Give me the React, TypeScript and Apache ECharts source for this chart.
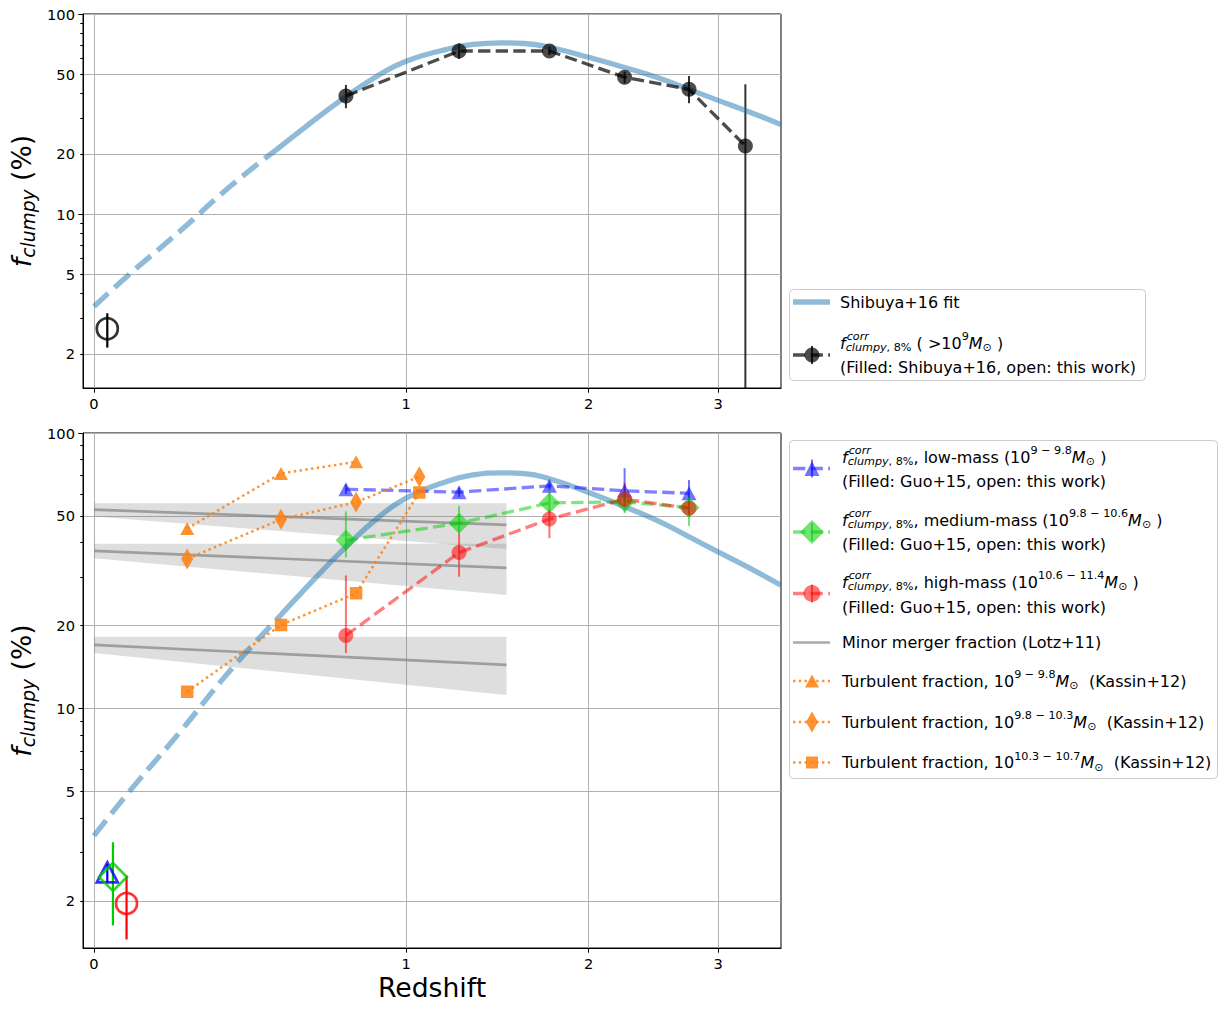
import React, { useEffect, useRef } from 'react';
import * as echarts from 'echarts';

// ---------------- data (redshift z, fraction in %) ----------------
const X_TICKS_Z = [0, 1, 2, 3];
const Y_TICKS = [2, 5, 10, 20, 50, 100];
const Y_MAJOR = [10, 100];
const Y_MINOR = [3, 4, 6, 7, 8, 9, 30, 40, 60, 70, 80, 90];
const Z_MIN = -0.0241;
const Z_MAX = 3.6;
const F_MIN = 1.35;
const F_MAX = 100;

// Shibuya+16 fit curve
const FIT_DASH_Z = [0, 0.08, 0.21, 0.35, 0.5];
const FIT_DASH_F = [3.45, 4.96, 8.2, 13.6, 21.0];
const FIT_SOLID_Z = [0.5, 0.6, 0.75, 0.88, 1.0, 1.16, 1.32, 1.47, 1.6, 1.75, 2.0, 2.25, 2.5, 2.75, 3.0, 3.3, 3.6];
const FIT_SOLID_F = [21.0, 27.3, 38.6, 49.3, 58.0, 65.5, 70.4, 71.7, 71.2, 68.2, 60.8, 54.0, 48.0, 42.0, 37.0, 32.2, 28.0];

// Shibuya+16 points (> 1e9 Msun)
const SHIBUYA_Z = [0.75, 1.25, 1.75, 2.25, 2.75, 3.25];
const SHIBUYA_F = [38.9, 65.3, 65.3, 48.3, 42.0, 21.9];
const SHIBUYA_LO = [33.8, 59.6, 62.4, 45.0, 35.8, 1.0];
const SHIBUYA_HI = [44.2, 71.3, 68.7, 51.5, 49.0, 44.5];

// this work, all masses
const TW_ALL_Z = [0.03];
const TW_ALL_F = [2.67];
const TW_ALL_LO = [2.15];
const TW_ALL_HI = [3.19];

// Guo+15
const GUO_Z = [0.75, 1.25, 1.75, 2.25, 2.75];
const GUO_LOW_F = [62.5, 61.0, 64.3, 61.7, 60.4];
const GUO_LOW_LO = [60.0, 58.5, 62.0, 56.3, 54.8];
const GUO_LOW_HI = [65.0, 63.5, 66.5, 74.5, 67.5];
const GUO_MED_F = [40.8, 47.0, 55.7, 56.3, 53.6];
const GUO_MED_LO = [35.3, 43.0, 51.2, 51.2, 46.0];
const GUO_MED_HI = [51.9, 54.3, 61.2, 62.0, 59.6];
const GUO_HIGH_F = [18.4, 36.8, 48.7, 57.5, 53.3];
const GUO_HIGH_LO = [15.9, 30.1, 41.5, 54.0, 50.5];
const GUO_HIGH_HI = [30.4, 43.0, 52.5, 66.1, 56.0];

// this work, per mass bin
const TW_LOW_Z = [0.03];
const TW_LOW_F = [2.54];
const TW_LOW_LO = [2.32];
const TW_LOW_HI = [2.72];
const TW_MED_Z = [0.043];
const TW_MED_F = [2.445];
const TW_MED_LO = [1.63];
const TW_MED_HI = [3.27];
const TW_HIGH_Z = [0.075];
const TW_HIGH_F = [1.96];
const TW_HIGH_LO = [1.45];
const TW_HIGH_HI = [2.47];

// Kassin+12 turbulent fractions
const KASSIN_Z = [0.23, 0.515, 0.79, 1.06];
const KASSIN_LOW_F = [45.0, 71.3, 78.6];
const KASSIN_MID_F = [34.9, 48.6, 56.1, 69.4];
const KASSIN_HIGH_F = [11.5, 20.1, 26.2, 60.8];

// Lotz+11 minor merger fraction
const LOTZ_Z = [0, 1.5];
const LOTZ1_F = [52.7, 46.4];
const LOTZ1_UP = [55.6, 55.6];
const LOTZ1_DN = [49.8, 37.9];
const LOTZ2_F = [37.3, 32.4];
const LOTZ2_UP = [39.6, 39.6];
const LOTZ2_DN = [35.1, 25.8];
const LOTZ3_F = [17.0, 14.4];
const LOTZ3_UP = [18.2, 18.2];
const LOTZ3_DN = [15.9, 11.2];

// ---------------- helpers ----------------
const FONT = 'DejaVu Sans';
const tx = (z: number) => Math.log10(1 + z);
const ty = (f: number) => Math.log10(f);
const P = (zs: number[], fs: number[]) => fs.map((f, i) => [tx(zs[i]), ty(f)]);
const E = (zs: number[], lo: number[], hi: number[]) => zs.map((z, i) => [tx(z), ty(lo[i]), ty(hi[i])]);

const C_FIT = 'rgba(31,119,180,0.5)';
const C_BLACK = 'rgba(0,0,0,0.7)';
const C_BLUE_M = 'rgba(0,0,255,0.55)';
const C_BLUE_L = 'rgba(0,0,255,0.5)';
const C_GREEN_M = 'rgba(0,204,0,0.55)';
const C_GREEN_L = 'rgba(0,204,0,0.5)';
const C_RED_M = 'rgba(255,0,0,0.55)';
const C_RED_L = 'rgba(255,0,0,0.5)';
const C_ORANGE = 'rgba(255,127,14,0.85)';
const C_GRAY = 'rgba(128,128,128,0.68)';
const C_BAND = 'rgba(128,128,128,0.26)';
const DASH_FIT = [19.7, 8.5];
const DASH = [12.3, 5.3];
const DOT = [2.4, 3.4];

let _ctx: any = null;
function textWidth(t: string, size: number, it?: boolean) {
  if (!_ctx) _ctx = document.createElement('canvas').getContext('2d');
  _ctx.font = `${it ? 'italic ' : ''}${size}px "${FONT}"`;
  return _ctx.measureText(t).width;
}

type Piece = { t: string; it?: boolean };
type Run = { t?: string; it?: boolean; sup?: Piece[]; sub?: Piece[] };

function mathText(runs: Run[], x0: number, yc: number, size: number, supDy = -0.4, subDy = 0.29) {
  const small = size * 0.7;
  const els: any[] = [];
  let x = x0;
  const put = (p: Piece, px: number, py: number, s: number) => {
    els.push({
      type: 'text', x: px, y: py, silent: true,
      style: { text: p.t, fontSize: s, fontFamily: FONT, fontStyle: p.it ? 'italic' : 'normal', fill: '#000', align: 'left', verticalAlign: 'middle' },
    });
    return textWidth(p.t, s, p.it);
  };
  for (const r of runs) {
    if (r.t !== undefined) x += put({ t: r.t, it: r.it }, x, yc, size);
    if (r.sup || r.sub) {
      let wa = 0, wb = 0;
      if (r.sup) { let xx = x + (r.it ? 1 : 0); for (const p of r.sup) xx += put(p, xx, yc + supDy * size, small); wa = xx - x; }
      if (r.sub) { let xx = x; for (const p of r.sub) xx += put(p, xx, yc + subDy * size, small); wb = xx - x; }
      x += Math.max(wa, wb);
    }
  }
  return { els, width: x - x0 };
}

const FCORR: Run = { t: 'f', it: true, sup: [{ t: 'corr', it: true }], sub: [{ t: 'clumpy', it: true }, { t: ', 8%' }] };
const MSUN: Run = { t: 'M', it: true, sub: [{ t: '⊙' }] };

function xAxisFor(g: number) {
  const vals = X_TICKS_Z.map(tx);
  return {
    type: 'value', gridIndex: g, min: tx(Z_MIN), max: tx(Z_MAX),
    axisLine: { show: true, onZero: false, lineStyle: { color: '#000', width: 1 } },
    axisTick: { show: true, customValues: vals, length: 4.7, lineStyle: { color: '#000', width: 1 } },
    axisLabel: {
      show: true, customValues: vals, showMinLabel: true, showMaxLabel: true,
      formatter: (v: number) => String(Math.round(Math.pow(10, v) - 1)),
      color: '#000', fontSize: 14.67, fontFamily: FONT, margin: 8,
    },
    splitLine: { show: true, lineStyle: { color: '#b0b0b0', width: 1 } },
  };
}

function yAxesFor(g: number) {
  const base = { type: 'value', gridIndex: g, min: ty(F_MIN), max: ty(F_MAX), position: 'left' };
  return [
    {
      ...base,
      axisLine: { show: true, onZero: false, lineStyle: { color: '#000', width: 1 } },
      axisTick: { show: true, customValues: Y_TICKS.map(ty), length: 2.7, lineStyle: { color: '#000', width: 1 } },
      axisLabel: {
        show: true, customValues: Y_TICKS.map(ty), showMinLabel: true, showMaxLabel: true,
        formatter: (v: number) => String(Math.round(Math.pow(10, v))),
        color: '#000', fontSize: 14.67, fontFamily: FONT, margin: 8,
      },
      splitLine: { show: true, lineStyle: { color: '#b0b0b0', width: 1 } },
    },
    {
      ...base,
      axisLine: { show: false, onZero: false },
      axisTick: { show: true, customValues: Y_MAJOR.map(ty), length: 4.7, lineStyle: { color: '#000', width: 1 } },
      axisLabel: { show: false },
      splitLine: { show: false },
    },
    {
      ...base,
      axisLine: { show: false, onZero: false },
      axisTick: { show: true, customValues: Y_MINOR.map(ty), length: 2.7, lineStyle: { color: '#000', width: 1 } },
      axisLabel: { show: false },
      splitLine: { show: false },
    },
  ];
}

function errSeries(g: number, data: number[][], color: string, width = 2) {
  return {
    type: 'custom', xAxisIndex: g, yAxisIndex: g * 3, silent: true, clip: true,
    data,
    renderItem: (params: any, api: any) => {
      const cs = params.coordSys;
      const a = api.coord([api.value(0), api.value(1)]);
      const b = api.coord([api.value(0), api.value(2)]);
      const top = cs.y, bot = cs.y + cs.height;
      const y1 = Math.max(top, Math.min(bot, a[1]));
      const y2 = Math.max(top, Math.min(bot, b[1]));
      return { type: 'line', shape: { x1: a[0], y1, x2: b[0], y2 }, style: { stroke: color, lineWidth: width } };
    },
  };
}

function bandSeries(g: number) {
  const bands = [
    [LOTZ1_UP, LOTZ1_DN],
    [LOTZ2_UP, LOTZ2_DN],
    [LOTZ3_UP, LOTZ3_DN],
  ].map(([up, dn]) => [tx(LOTZ_Z[0]), tx(LOTZ_Z[1]), ty(up[0]), ty(up[1]), ty(dn[0]), ty(dn[1])]);
  return {
    type: 'custom', xAxisIndex: g, yAxisIndex: g * 3, silent: true, clip: true,
    data: bands,
    renderItem: (params: any, api: any) => {
      const x0 = api.value(0), x1 = api.value(1);
      const pts = [
        api.coord([x0, api.value(2)]),
        api.coord([x1, api.value(3)]),
        api.coord([x1, api.value(5)]),
        api.coord([x0, api.value(4)]),
      ];
      return { type: 'polygon', shape: { points: pts }, style: { fill: C_BAND } };
    },
  };
}

function lineSeries(g: number, data: number[][], o: any) {
  return {
    type: 'line', xAxisIndex: g, yAxisIndex: g * 3, data, silent: true,
    emphasis: { disabled: true },
    symbol: o.symbol || 'none', symbolSize: o.size || 0, showSymbol: !!o.symbol,
    smooth: o.smooth || false,
    itemStyle: { color: o.mcolor || 'transparent', borderWidth: 0 },
    lineStyle: { color: o.lcolor, width: o.width, type: o.dash || 'solid', cap: 'butt' },
  };
}

function openSeries(g: number, data: number[][], symbol: string, size: any, color: string) {
  return {
    type: 'scatter', xAxisIndex: g, yAxisIndex: g * 3, data, silent: true,
    emphasis: { disabled: true },
    symbol, symbolSize: size,
    itemStyle: { color: 'rgba(0,0,0,0)', borderColor: color, borderWidth: 2.7 },
  };
}

function fitSeries(g: number) {
  return [
    lineSeries(g, P(FIT_DASH_Z, FIT_DASH_F), { lcolor: C_FIT, width: 5.3, dash: DASH_FIT, smooth: 0.5 }),
    lineSeries(g, P(FIT_SOLID_Z, FIT_SOLID_F), { lcolor: C_FIT, width: 5.3, smooth: 0.5 }),
  ];
}

// ---------------- legend / labels ----------------
function legendLine(y: number, color: string, width: number, dash?: number[]) {
  return { type: 'line', silent: true, shape: { x1: 793, y1: y, x2: 830, y2: y }, style: { stroke: color, lineWidth: width, lineDash: dash || null } };
}
function tri(cx: number, cy: number, w: number, h: number, fill: string) {
  return { type: 'polygon', silent: true, shape: { points: [[cx, cy - h / 2], [cx + w / 2, cy + h / 2], [cx - w / 2, cy + h / 2]] }, style: { fill } };
}
function dia(cx: number, cy: number, w: number, h: number, fill: string) {
  return { type: 'polygon', silent: true, shape: { points: [[cx, cy - h / 2], [cx + w / 2, cy], [cx, cy + h / 2], [cx - w / 2, cy]] }, style: { fill } };
}
function vbar(cx: number, cy: number, color: string) {
  return { type: 'line', silent: true, shape: { x1: cx, y1: cy - 9, x2: cx, y2: cy + 9 }, style: { stroke: color, lineWidth: 2 } };
}

function buildGraphics() {
  const els: any[] = [];
  // legend boxes
  els.push({ type: 'rect', silent: true, shape: { x: 789.5, y: 289.5, width: 356, height: 91, r: 4 }, style: { fill: 'rgba(255,255,255,0.8)', stroke: '#cccccc', lineWidth: 1 } });
  els.push({ type: 'rect', silent: true, shape: { x: 789.5, y: 440.5, width: 428, height: 338, r: 4 }, style: { fill: 'rgba(255,255,255,0.8)', stroke: '#cccccc', lineWidth: 1 } });

  // top legend
  els.push(legendLine(302, C_FIT, 5.3));
  els.push(...mathText([{ t: 'Shibuya+16 fit' }], 840, 302, 16).els);
  els.push(legendLine(355, C_BLACK, 3.3, DASH));
  els.push(vbar(812, 355, 'rgba(0,0,0,0.8)'));
  els.push({ type: 'circle', silent: true, shape: { cx: 812, cy: 355, r: 7.5 }, style: { fill: C_BLACK } });
  els.push(...mathText([FCORR, { t: ' ( >10', sup: [{ t: '9' }] }, MSUN, { t: ' )' }], 840, 343, 16).els);
  els.push(...mathText([{ t: '(Filled: Shibuya+16, open: this work)' }], 840, 367, 16).els);

  // bottom legend
  const TX = 842;
  els.push(legendLine(468.5, C_BLUE_L, 3.3, DASH));
  els.push(vbar(812, 468.5, C_BLUE_M));
  els.push(tri(812, 468.5, 15, 15, C_BLUE_M));
  els.push(...mathText([FCORR, { t: ', low-mass (10', sup: [{ t: '9 − 9.8' }] }, MSUN, { t: ' )' }], TX, 457, 16).els);
  els.push(...mathText([{ t: '(Filled: Guo+15, open: this work)' }], TX, 481.5, 16).els);

  els.push(legendLine(532, C_GREEN_L, 3.3, DASH));
  els.push(vbar(812, 532, C_GREEN_M));
  els.push(dia(812, 532, 24, 24, C_GREEN_M));
  els.push(...mathText([FCORR, { t: ', medium-mass (10', sup: [{ t: '9.8 − 10.6' }] }, MSUN, { t: ' )' }], TX, 520, 16).els);
  els.push(...mathText([{ t: '(Filled: Guo+15, open: this work)' }], TX, 544, 16).els);

  els.push(legendLine(593.5, C_RED_L, 3.3, DASH));
  els.push(vbar(812, 593.5, C_RED_M));
  els.push({ type: 'circle', silent: true, shape: { cx: 812, cy: 593.5, r: 8.5 }, style: { fill: C_RED_M } });
  els.push(...mathText([FCORR, { t: ', high-mass (10', sup: [{ t: '10.6 − 11.4' }] }, MSUN, { t: ' )' }], TX, 582, 16).els);
  els.push(...mathText([{ t: '(Filled: Guo+15, open: this work)' }], TX, 607, 16).els);

  els.push(legendLine(642.5, C_GRAY, 2.7));
  els.push(...mathText([{ t: 'Minor merger fraction (Lotz+11)' }], TX, 642.5, 16).els);

  els.push(legendLine(681, C_ORANGE, 2.5, DOT));
  els.push(tri(812, 681, 14, 13, C_ORANGE));
  els.push(...mathText([{ t: 'Turbulent fraction, 10', sup: [{ t: '9 − 9.8' }] }, MSUN, { t: '  (Kassin+12)' }], TX, 681, 16).els);

  els.push(legendLine(722, C_ORANGE, 2.5, DOT));
  els.push(dia(812, 722, 12, 21, C_ORANGE));
  els.push(...mathText([{ t: 'Turbulent fraction, 10', sup: [{ t: '9.8 − 10.3' }] }, MSUN, { t: '  (Kassin+12)' }], TX, 722, 16).els);

  els.push(legendLine(762.5, C_ORANGE, 2.5, DOT));
  els.push({ type: 'rect', silent: true, shape: { x: 806, y: 756.5, width: 12, height: 12 }, style: { fill: C_ORANGE } });
  els.push(...mathText([{ t: 'Turbulent fraction, 10', sup: [{ t: '10.3 − 10.7' }] }, MSUN, { t: '  (Kassin+12)' }], TX, 762.5, 16).els);

  // y labels (rotated)
  for (const cy of [201, 690.5]) {
    const m = mathText([{ t: 'f', it: true, sub: [{ t: 'clumpy', it: true }] }, { t: ' (%)' }], 0, 0, 26.67, -0.4, 0.27);
    const children = m.els.map((e: any) => ({ ...e, x: e.x - m.width / 2 }));
    els.push({ type: 'group', x: 21, y: cy, rotation: Math.PI / 2, children });
  }
  // x label
  els.push({ type: 'text', silent: true, x: 432, y: 987, style: { text: 'Redshift', fontSize: 26.67, fontFamily: FONT, fill: '#000', align: 'center', verticalAlign: 'middle' } });
  return els;
}

function buildOption() {
  const series: any[] = [];
  // ---- top panel (grid 0)
  series.push(...fitSeries(0));
  series.push(errSeries(0, E(SHIBUYA_Z, SHIBUYA_LO, SHIBUYA_HI), 'rgba(0,0,0,0.8)', 2));
  series.push(lineSeries(0, P(SHIBUYA_Z, SHIBUYA_F), { symbol: 'circle', size: 15, mcolor: C_BLACK, lcolor: C_BLACK, width: 3.3, dash: DASH }));
  series.push(errSeries(0, E(TW_ALL_Z, TW_ALL_LO, TW_ALL_HI), '#000', 2.2));
  series.push(openSeries(0, P(TW_ALL_Z, TW_ALL_F), 'circle', 21, '#000'));

  // ---- bottom panel (grid 1)
  series.push(bandSeries(1));
  series.push(lineSeries(1, P(LOTZ_Z, LOTZ1_F), { lcolor: C_GRAY, width: 2.7 }));
  series.push(lineSeries(1, P(LOTZ_Z, LOTZ2_F), { lcolor: C_GRAY, width: 2.7 }));
  series.push(lineSeries(1, P(LOTZ_Z, LOTZ3_F), { lcolor: C_GRAY, width: 2.7 }));
  series.push(...fitSeries(1));

  series.push(errSeries(1, E(GUO_Z, GUO_LOW_LO, GUO_LOW_HI), C_BLUE_M, 2));
  series.push(lineSeries(1, P(GUO_Z, GUO_LOW_F), { symbol: 'triangle', size: [15, 14], mcolor: C_BLUE_M, lcolor: C_BLUE_L, width: 3.3, dash: DASH }));
  series.push(errSeries(1, E(GUO_Z, GUO_MED_LO, GUO_MED_HI), C_GREEN_M, 2));
  series.push(lineSeries(1, P(GUO_Z, GUO_MED_F), { symbol: 'diamond', size: 21, mcolor: C_GREEN_M, lcolor: C_GREEN_L, width: 3.3, dash: DASH }));
  series.push(errSeries(1, E(GUO_Z, GUO_HIGH_LO, GUO_HIGH_HI), C_RED_M, 2));
  series.push(lineSeries(1, P(GUO_Z, GUO_HIGH_F), { symbol: 'circle', size: 15, mcolor: C_RED_M, lcolor: C_RED_L, width: 3.3, dash: DASH }));

  series.push(lineSeries(1, P(KASSIN_Z, KASSIN_LOW_F), { symbol: 'triangle', size: [14, 13], mcolor: C_ORANGE, lcolor: C_ORANGE, width: 2.5, dash: DOT }));
  series.push(lineSeries(1, P(KASSIN_Z, KASSIN_MID_F), { symbol: 'diamond', size: [12, 21], mcolor: C_ORANGE, lcolor: C_ORANGE, width: 2.5, dash: DOT }));
  series.push(lineSeries(1, P(KASSIN_Z, KASSIN_HIGH_F), { symbol: 'rect', size: 12.5, mcolor: C_ORANGE, lcolor: C_ORANGE, width: 2.5, dash: DOT }));

  series.push(errSeries(1, E(TW_LOW_Z, TW_LOW_LO, TW_LOW_HI), '#0000ff', 2.2));
  series.push(openSeries(1, P(TW_LOW_Z, TW_LOW_F), 'triangle', [21, 20], '#0000ff'));
  series.push(errSeries(1, E(TW_MED_Z, TW_MED_LO, TW_MED_HI), '#00cc00', 2.2));
  series.push(openSeries(1, P(TW_MED_Z, TW_MED_F), 'diamond', 28, '#00cc00'));
  series.push(errSeries(1, E(TW_HIGH_Z, TW_HIGH_LO, TW_HIGH_HI), '#ff0000', 2.2));
  series.push(openSeries(1, P(TW_HIGH_Z, TW_HIGH_F), 'circle', 21, '#ff0000'));

  const gridBase = { show: true, borderColor: '#000', borderWidth: 1, backgroundColor: 'rgba(0,0,0,0)', containLabel: false, outerBoundsMode: 'none' };
  return {
    animation: false,
    backgroundColor: '#ffffff',
    textStyle: { fontFamily: FONT },
    grid: [
      { ...gridBase, left: 83, top: 14, width: 698, height: 374 },
      { ...gridBase, left: 83, top: 433, width: 698, height: 515 },
    ],
    xAxis: [xAxisFor(0), xAxisFor(1)],
    yAxis: [...yAxesFor(0), ...yAxesFor(1)],
    series,
    graphic: { elements: buildGraphics() },
  };
}

export default function App() {
  const ref = useRef<HTMLDivElement>(null);
  useEffect(() => {
    if (!ref.current) return;
    const chart = echarts.init(ref.current, null, { renderer: 'svg' });
    chart.setOption(buildOption() as any);
    return () => chart.dispose();
  }, []);
  return <div ref={ref} style={{ position: 'absolute', left: 0, top: 0, width: '1223px', height: '1009px' }} />;
}
